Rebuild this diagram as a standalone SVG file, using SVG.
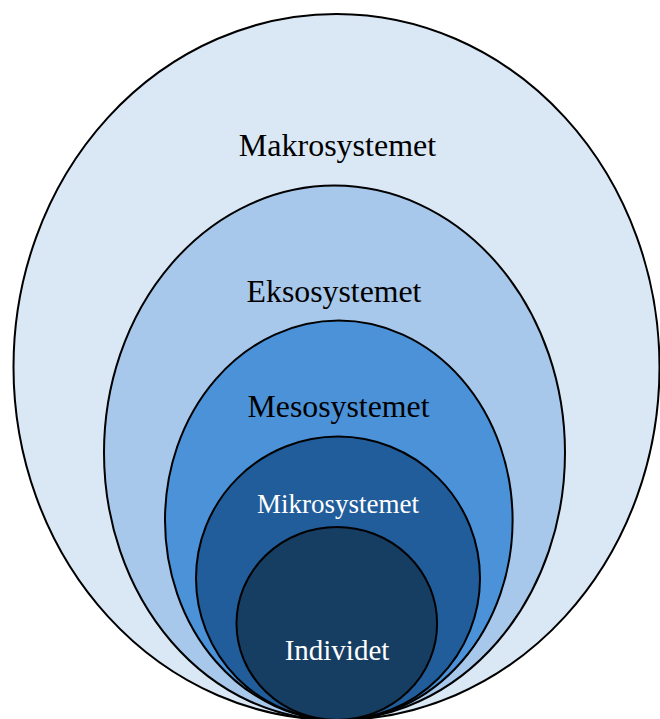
<svg xmlns="http://www.w3.org/2000/svg" width="660" height="719" viewBox="0 0 660 719">
<style>
.ring{stroke:#000;stroke-width:2}
.lbl{font-family:"Liberation Serif","Times New Roman",serif;text-anchor:middle}
.dark{fill:#000}
.light{fill:#fff}
</style>
<rect width="660" height="719" fill="#fff"/>
<g id="makro">
<ellipse class="ring" cx="336.5" cy="367" rx="323" ry="353" fill="#DAE8F6"/>
<text class="lbl dark" x="337.5" y="156" font-size="32">Makrosystemet</text>
</g>
<g id="ekso">
<ellipse class="ring" cx="334.5" cy="452.8" rx="230.5" ry="267.2" fill="#A7C8EA"/>
<text class="lbl dark" x="334" y="301.5" font-size="31.8">Eksosystemet</text>
</g>
<g id="meso">
<ellipse class="ring" cx="338.8" cy="520.3" rx="173.8" ry="199.7" fill="#4B92D8"/>
<text class="lbl dark" x="338.5" y="416.5" font-size="31.8">Mesosystemet</text>
</g>
<g id="mikro">
<ellipse class="ring" cx="338" cy="578.3" rx="142" ry="141.7" fill="#215D9A"/>
<text class="lbl light" x="338" y="513" font-size="27">Mikrosystemet</text>
</g>
<g id="individet">
<ellipse class="ring" cx="336.8" cy="623.5" rx="100.3" ry="96.5" fill="#163D62"/>
<text class="lbl light" x="337" y="660" font-size="29">Individet</text>
</g>
<g id="connectors"/>
</svg>
